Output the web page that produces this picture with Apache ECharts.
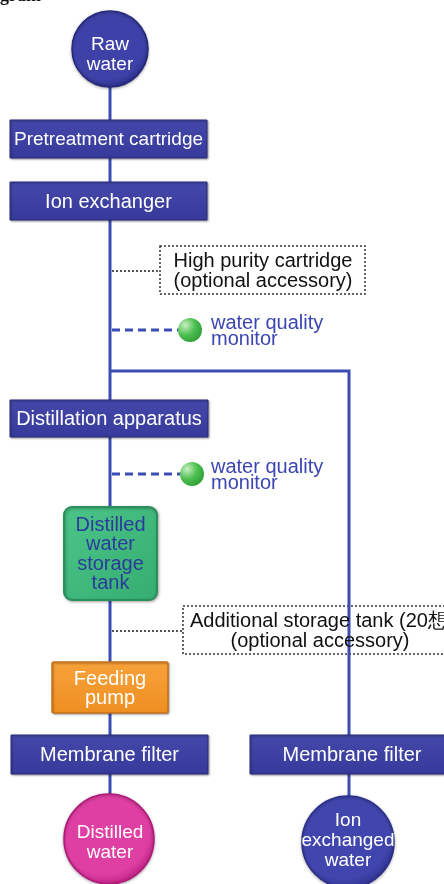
<!DOCTYPE html>
<html><head><meta charset="utf-8">
<script src="https://cdn.jsdelivr.net/npm/echarts@6/dist/echarts.min.js"></script>
<style>html,body{margin:0;padding:0;background:#fff}#c{width:444px;height:884px}</style>
</head><body><div id="c"></div>
<script>
// ---------- content ----------
const titleFragment = 'gram';
const processSteps = ['Pretreatment cartridge', 'Ion exchanger', 'Distillation apparatus', 'Membrane filter', 'Membrane filter'];
const terminals = ['Raw\nwater', 'Distilled\nwater', 'Ion\nexchanged\nwater'];
const tankLabels = ['Distilled\nwater\nstorage\ntank'];
const pumpLabels = ['Feeding\npump'];
const monitorLabels = ['water quality\nmonitor', 'water quality\nmonitor'];
const optionalTitles = ['High purity cartridge', 'Additional storage tank (20想'];
const optionalNotes = ['(optional accessory)', '(optional accessory)'];

// ---------- layout (diagram units = px) ----------
const stepBoxes = [[10, 120, 197, 38], [10, 182, 197, 38], [10, 400, 198, 37], [11, 735, 197, 39], [250, 735, 204, 39]];
const stepFont = [19, 20, 20, 20, 20];
const terminalCircles = [[110, 49, 38], [109, 839, 45], [348, 842, 46]];
const terminalText = [[110, 55], [110, 843], [348, 841]];
const terminalColors = [['#3e42a8', '#26297c'], ['#df3fa3', '#b2197a'], ['#4146ae', '#2a2e88']];
const tankBoxes = [[64, 507, 93, 93]];
const pumpBoxes = [[52, 662, 116, 51]];
const monitorBalls = [[190, 330, 12], [192, 474, 12]];
const optionalBoxes = [[160, 246, 205, 48], [183, 606, 280, 48]];
const optionalTextPos = [[[263, 261, 'center'], [263, 281, 'center']], [[190, 621, 'left'], [320, 641, 'center']]];
const mainFlow = [[[110, 60], [110, 810]]];
const branchFlow = [[[110, 371], [349, 371], [349, 810]]];
const monitorTaps = [[[112, 330], [180, 330]], [[112, 474], [182, 474]]];
const optionalTaps = [[[112, 271], [160, 271]], [[112, 631], [183, 631]]];

const FONT = '"Liberation Sans", Arial, Helvetica, sans-serif';
const BLUE_LINE = '#3b4db3';

const elements = [];
optionalBoxes.forEach((b, i) => elements.push({ kind: 'optBox', b, i }));
mainFlow.forEach(p => elements.push({ kind: 'line', p, stroke: BLUE_LINE, w: 3 }));
branchFlow.forEach(p => elements.push({ kind: 'line', p, stroke: BLUE_LINE, w: 3 }));
monitorTaps.forEach(p => elements.push({ kind: 'line', p, stroke: BLUE_LINE, w: 3, dash: [8, 5] }));
optionalTaps.forEach(p => elements.push({ kind: 'line', p, stroke: '#555', w: 2, dash: [2, 2] }));
stepBoxes.forEach((b, i) => elements.push({ kind: 'step', b, label: processSteps[i], fs: stepFont[i] }));
terminalCircles.forEach((c, i) => elements.push({ kind: 'terminal', c, t: terminalText[i], label: terminals[i], col: terminalColors[i] }));
tankBoxes.forEach((b, i) => elements.push({ kind: 'tank', b, label: tankLabels[i] }));
pumpBoxes.forEach((b, i) => elements.push({ kind: 'pump', b, label: pumpLabels[i] }));
monitorBalls.forEach((c, i) => elements.push({ kind: 'monitor', c, label: monitorLabels[i] }));
elements.push({ kind: 'title', label: titleFragment });

function renderItem(params, api) {
  const e = elements[api.value(0)];
  const P = (x, y) => api.coord([x, y]);
  const S = (w, h) => { const a = P(0, 0), b = P(w, h); return [b[0] - a[0], b[1] - a[1]]; };
  const text = (t, x, y, o) => ({
    type: 'text', z2: 10,
    style: Object.assign({ text: t, x: P(x, y)[0], y: P(x, y)[1], fill: '#fff', fontSize: 20, fontFamily: FONT,
      align: 'center', verticalAlign: 'middle' }, o || {})
  });
  const rectOf = (b) => { const p = P(b[0], b[1]); const s = S(b[2], b[3]); return { x: p[0], y: p[1], width: s[0], height: s[1] }; };
  switch (e.kind) {
    case 'line':
      return { type: 'polyline', shape: { points: e.p.map(q => P(q[0], q[1])) },
        style: { stroke: e.stroke, lineWidth: e.w, lineDash: e.dash || null, fill: null } };
    case 'optBox': {
      const b = e.b, tp = optionalTextPos[e.i];
      return { type: 'group', children: [
        { type: 'rect', shape: rectOf(b), style: { fill: null, stroke: '#333', lineWidth: 1.5, lineDash: [2, 2] } },
        text(optionalTitles[e.i], tp[0][0], tp[0][1], { fill: '#111', fontSize: 20, align: tp[0][2] }),
        text(optionalNotes[e.i], tp[1][0], tp[1][1], { fill: '#111', fontSize: 20, align: tp[1][2] })
      ] };
    }
    case 'step': {
      const b = e.b;
      return { type: 'group', children: [
        { type: 'rect', shape: rectOf(b), style: {
          fill: { type: 'linear', x: 0, y: 0, x2: 0, y2: 1, colorStops: [{ offset: 0, color: '#4448aa' }, { offset: 1, color: '#373a9a' }] },
          stroke: '#2a2d7c', lineWidth: 1, shadowBlur: 2, shadowOffsetX: 1, shadowOffsetY: 1, shadowColor: 'rgba(0,0,0,0.35)' } },
        text(e.label, b[0] + b[2] / 2, b[1] + b[3] / 2 + 1, { fontSize: e.fs })
      ] };
    }
    case 'terminal': {
      const c = e.c, p = P(c[0], c[1]), r = S(c[2], 0)[0];
      return { type: 'group', children: [
        { type: 'circle', shape: { cx: p[0], cy: p[1], r: r }, style: {
          fill: { type: 'radial', x: 0.45, y: 0.4, r: 0.65, colorStops: [{ offset: 0, color: e.col[0] }, { offset: 0.75, color: e.col[0] }, { offset: 1, color: e.col[1] }] },
          stroke: e.col[1], lineWidth: 1.5, shadowBlur: 3, shadowColor: 'rgba(0,0,0,0.3)', shadowOffsetY: 1 } },
        text(e.label, e.t[0], e.t[1], { fontSize: 19, lineHeight: 20 })
      ] };
    }
    case 'tank': {
      const b = e.b, rs = rectOf(b);
      return { type: 'group', children: [
        { type: 'rect', shape: Object.assign(rs, { r: 8 }), style: {
          fill: { type: 'linear', x: 0, y: 0, x2: 1, y2: 1, colorStops: [{ offset: 0, color: '#4cc58a' }, { offset: 1, color: '#35ad70' }] },
          stroke: '#2a8f5c', lineWidth: 2, shadowBlur: 3, shadowOffsetX: 1, shadowOffsetY: 1, shadowColor: 'rgba(0,0,0,0.3)' } },
        text(e.label, b[0] + b[2] / 2, b[1] + b[3] / 2 + 1, { fill: '#2c3a9e', fontSize: 20, lineHeight: 19.5 })
      ] };
    }
    case 'pump': {
      const b = e.b;
      return { type: 'group', children: [
        { type: 'rect', shape: Object.assign(rectOf(b), { r: 2 }), style: {
          fill: { type: 'linear', x: 0, y: 0, x2: 0, y2: 1, colorStops: [{ offset: 0, color: '#f8a23a' }, { offset: 1, color: '#ee8f22' }] },
          stroke: '#c8711a', lineWidth: 1.5, shadowBlur: 2, shadowOffsetX: 1, shadowOffsetY: 1, shadowColor: 'rgba(0,0,0,0.3)' } },
        text(e.label, b[0] + b[2] / 2, b[1] + b[3] / 2 + 1, { fontSize: 20, lineHeight: 19 })
      ] };
    }
    case 'monitor': {
      const c = e.c, p = P(c[0], c[1]), r = S(c[2], 0)[0];
      return { type: 'group', children: [
        { type: 'circle', shape: { cx: p[0], cy: p[1], r: r }, style: {
          fill: { type: 'radial', x: 0.3, y: 0.3, r: 0.9, colorStops: [{ offset: 0, color: '#c9efc4' }, { offset: 0.45, color: '#4fc152' }, { offset: 1, color: '#23952c' }] } } },
        text(e.label, 211, c[1] + 1, { fill: '#3b46b2', fontSize: 20, lineHeight: 16, align: 'left' })
      ] };
    }
    case 'title':
      return text(e.label, 0, 5, { fill: '#111', fontSize: 18, fontWeight: 'bold', fontFamily: '"Liberation Serif", "DejaVu Serif", serif', align: 'left', verticalAlign: 'bottom' });
  }
}

const chart = echarts.init(document.getElementById('c'), null, { renderer: 'canvas' });
chart.setOption({
  animation: false,
  backgroundColor: '#fff',
  grid: { left: 0, right: 0, top: 0, bottom: 0 },
  xAxis: { type: 'value', min: 0, max: 444, show: false },
  yAxis: { type: 'value', min: 0, max: 884, inverse: true, show: false },
  series: [{
    type: 'custom', coordinateSystem: 'cartesian2d', clip: false,
    renderItem: renderItem,
    data: elements.map((e, i) => [i])
  }]
});
</script></body></html>
